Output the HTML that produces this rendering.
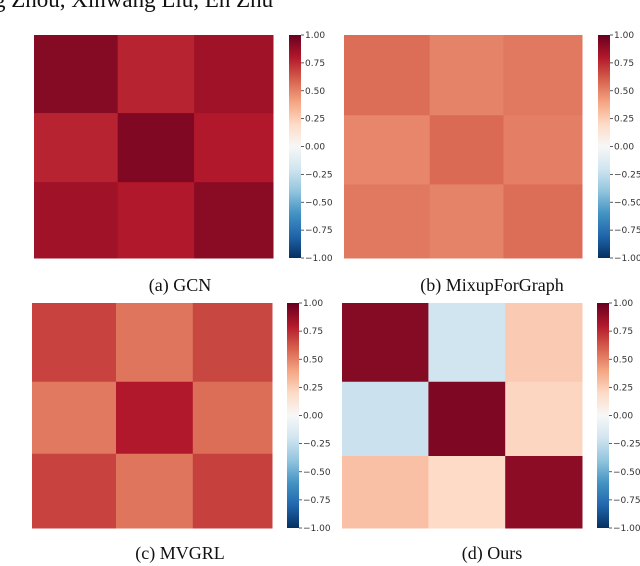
<!DOCTYPE html>
<html><head><meta charset="utf-8"><style>
html,body{margin:0;padding:0;background:#fff;width:640px;height:566px;overflow:hidden}
svg{display:block}
.tk{font-family:"DejaVu Sans","Liberation Sans",sans-serif;font-size:9px;fill:#333}
.cap{font-family:"Liberation Serif",serif;font-size:18px;fill:#111}
</style></head><body>
<svg id="fig" width="640" height="566">
<defs>
<linearGradient id="rdbu" x1="0" y1="0" x2="0" y2="1">
<stop offset="0" stop-color="#67001f"/><stop offset="0.1" stop-color="#b2182b"/><stop offset="0.2" stop-color="#d6604d"/><stop offset="0.3" stop-color="#f4a582"/><stop offset="0.4" stop-color="#fddbc7"/><stop offset="0.5" stop-color="#f7f7f7"/><stop offset="0.6" stop-color="#d1e5f0"/><stop offset="0.7" stop-color="#92c5de"/><stop offset="0.8" stop-color="#4393c3"/><stop offset="0.9" stop-color="#2166ac"/><stop offset="1" stop-color="#053061"/>
</linearGradient>
</defs>
<text x="-6" y="7" font-family="Liberation Serif,serif" font-size="23" fill="#111">g Zhou, Xinwang Liu, En Zhu</text>
</svg>
<script>
const panelNames = ["gcn","mixupforgraph","mvgrl","ours"];
const captions = ["(a) GCN","(b) MixupForGraph","(c) MVGRL","(d) Ours"];
const gcnValues = [[0.92,0.77,0.85],[0.77,0.93,0.80],[0.85,0.80,0.91]];
const mixupValues = [[0.56,0.50,0.53],[0.49,0.57,0.51],[0.53,0.50,0.56]];
const mvgrlValues = [[0.68,0.54,0.67],[0.53,0.80,0.56],[0.68,0.54,0.69]];
const oursValues = [[0.92,-0.20,0.26],[-0.22,0.94,0.22],[0.30,0.20,0.90]];
const colFracsA = [0.35,0.32,0.33], rowFracsA = [0.35,0.31,0.34];
const colFracsB = [0.36,0.31,0.33], rowFracsB = [0.36,0.31,0.33];
const colFracsC = [0.35,0.32,0.33], rowFracsC = [0.35,0.32,0.33];
const colFracsD = [0.36,0.32,0.32], rowFracsD = [0.35,0.33,0.32];
const tickValues = [1.00,0.75,0.50,0.25,0.00,-0.25,-0.50,-0.75,-1.00];

const stops=[[103,0,31],[178,24,43],[214,96,77],[244,165,130],[253,219,199],[247,247,247],[209,229,240],[146,197,222],[67,147,195],[33,102,172],[5,48,97]];
function cmap(v){const t=(1-v)/2*10;const i=Math.max(0,Math.min(9,Math.floor(t)));const f=t-i;const a=stops[i],b=stops[i+1];
return 'rgb('+a.map((c,k)=>Math.round(c+(b[k]-c)*f)).join(',')+')';}
const NS="http://www.w3.org/2000/svg";
const svg=document.getElementById('fig');
function mk(tag,attrs){const e=document.createElementNS(NS,tag);for(const k in attrs)e.setAttribute(k,attrs[k]);return e;}
const layouts=[
 {x:34,y:35,w:239,h:223,cb:289,vals:gcnValues,cf:colFracsA,rf:rowFracsA,cx:180,cy:291},
 {x:344,y:35,w:238,h:223,cb:598,vals:mixupValues,cf:colFracsB,rf:rowFracsB,cx:492,cy:291},
 {x:32,y:303,w:240,h:225,cb:287,vals:mvgrlValues,cf:colFracsC,rf:rowFracsC,cx:180,cy:559},
 {x:342,y:303,w:240,h:225,cb:597,vals:oursValues,cf:colFracsD,rf:rowFracsD,cx:492,cy:559}];
layouts.forEach((L,p)=>{
 const g=mk('g',{});
 
 
 let yy=L.y;
 for(let r=0;r<3;r++){
  const hh=L.rf[r]*L.h; let xx=L.x;
  for(let c=0;c<3;c++){
   const ww=L.cf[c]*L.w;
   const rc=mk('rect',{x:xx,y:yy,width:ww+0.5,height:hh+0.5,fill:cmap(L.vals[r][c])});
   
   
   g.appendChild(rc); xx+=ww;
  }
  yy+=hh;
 }
 svg.appendChild(g);
 const cb=mk('rect',{x:L.cb,y:L.y,width:12,height:L.h,fill:'url(#rdbu)'});
 
 
 svg.appendChild(cb);
 tickValues.forEach(v=>{
  const ty=L.y+(1-v)/2*L.h;
  const ln=mk('line',{x1:L.cb+12,x2:L.cb+15,y1:ty,y2:ty,stroke:'#333','stroke-width':0.8});
  
  
  svg.appendChild(ln);
  const t=mk('text',{x:L.cb+16,y:ty+3,class:'tk'});
  t.textContent=(v<0?'\u2212'+Math.abs(v).toFixed(2):v.toFixed(2));
  
  
  svg.appendChild(t);
 });
 const cap=mk('text',{x:L.cx,y:L.cy,class:'cap','text-anchor':'middle'});
 cap.textContent=captions[p];
 
 
 svg.appendChild(cap);
});
</script>
</body></html>
